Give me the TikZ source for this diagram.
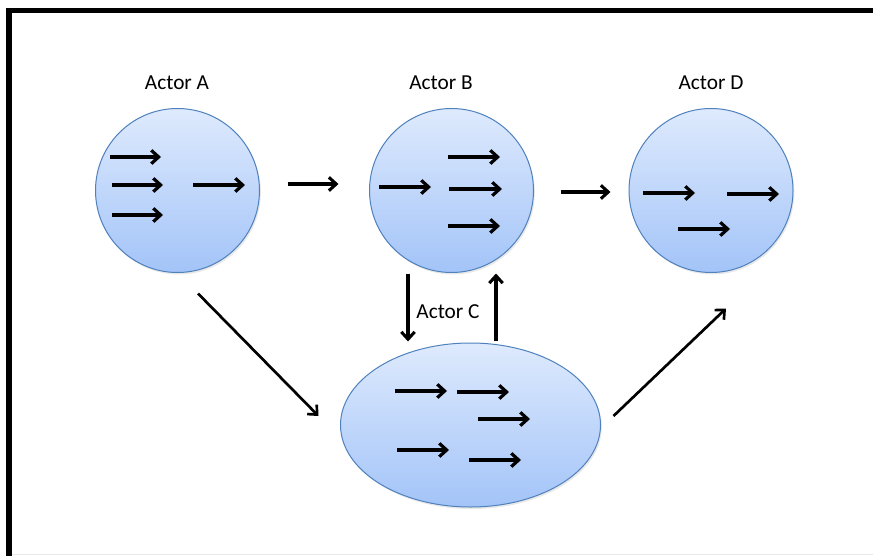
\documentclass[tikz,border=0pt]{standalone}
\usepackage{fontspec}
\setmainfont{Carlito}
\usetikzlibrary{arrows.meta,shapes.geometric,calc,shadows}

\definecolor{actTop}{RGB}{222,234,253}
\definecolor{actBot}{RGB}{163,196,248}
\definecolor{actLine}{RGB}{79,129,189}

\tikzset{every picture/.style={line width=0.75pt}}
\tikzset{
  actor/.style={circle,minimum size=123pt,inner sep=0pt,draw=actLine,line width=0.75pt,
    top color=actTop,bottom color=actBot,drop shadow={opacity=0.18,shadow xshift=1pt,shadow yshift=-1.5pt}},
  actorwide/.style={actor,ellipse,minimum width=195pt,minimum height=123pt},
  lbl/.style={inner sep=0.75pt,font=\fontsize{16}{19}\selectfont},
  mv/.style={line width=2.6pt,-{Straight Barb[length=5.5pt,width=10pt,line width=2.4pt]}},
  flow/.style={line width=2.4pt,-{Straight Barb[length=5.5pt,width=10pt,line width=2.3pt]}},
  flowthin/.style={line width=2pt,-{Straight Barb[length=5.5pt,width=10pt,line width=2pt]}}
}

\begin{document}
\begin{tikzpicture}[x=0.75pt,y=0.75pt,yscale=-1,xscale=1]
\useasboundingbox (0,0) rectangle (873,556);

%Frame
\draw [color={rgb, 255:red, 232; green, 232; blue, 232 }] (12,554) -- (873,554) ;
\draw [line width=4.3pt,line join=miter] (9,556) -- (9,10.5) -- (873,10.5) ;

%Shapes: actors
\node [actor] (actA) at (177.5,190.5) {};
\node [actor] (actB) at (451.5,190.5) {};
\node [actor] (actD) at (711,190.5) {};
\node [actorwide] (actC) at (470.5,425) {};

% Text Node
\node [lbl] (labA) at (177,83) {Actor A};
% Text Node
\node [lbl] (labB) at (441,83) {Actor B};
% Text Node
\node [lbl] (labD) at (711,83) {Actor D};
% Text Node
\node [lbl] (labC) at (448,312) {Actor C};

%Arrows inside Actor A
\draw [mv] (110,157) -- (161,157) ;
\draw [mv] (112,185) -- (163,185) ;
\draw [mv] (112,215) -- (163,215) ;
\draw [mv] (193,185) -- (245,185) ;
%Arrows inside Actor B
\draw [mv] (379,187) -- (431,187) ;
\draw [mv] (448,157) -- (500,157) ;
\draw [mv] (449,189) -- (502,189) ;
\draw [mv] (448,226) -- (500,226) ;
%Arrows inside Actor D
\draw [mv] (643,193) -- (695,193) ;
\draw [mv] (727,194) -- (779,194) ;
\draw [mv] (678,229) -- (730,229) ;
%Arrows inside Actor C
\draw [mv] (395,391) -- (447,391) ;
\draw [mv] (457,392) -- (509,392) ;
\draw [mv] (478,419) -- (530,419) ;
\draw [mv] (397,450) -- (449,450) ;
\draw [mv] (469,460) -- (521,460) ;

%Connectors between actors
\draw [flow] ($(actA.east)+(27.5,-6.5)$) -- ($(actB.west)+(-30.5,-6.5)$) ;
\draw [flow] ($(actB.east)+(26.5,1.5)$) -- ($(actD.west)+(-18,1.5)$) ;
\draw [flow] ($(actB.south)+(-43.5,0.5)$) -- ($(actC.north)+(-62.5,-1)$) ;
\draw [flow] ($(actC.north)+(25.5,-2)$) -- ($(actB.south)+(44.5,0.5)$) ;
\draw [flowthin] ($(actA.south)+(20.5,20.5)$) -- ($(actC.west)+(-21.5,-9)$) ;
\draw [flowthin] ($(actC.east)+(12.5,-9)$) -- ($(actD.south)+(15,35.5)$) ;

\end{tikzpicture}
\end{document}
